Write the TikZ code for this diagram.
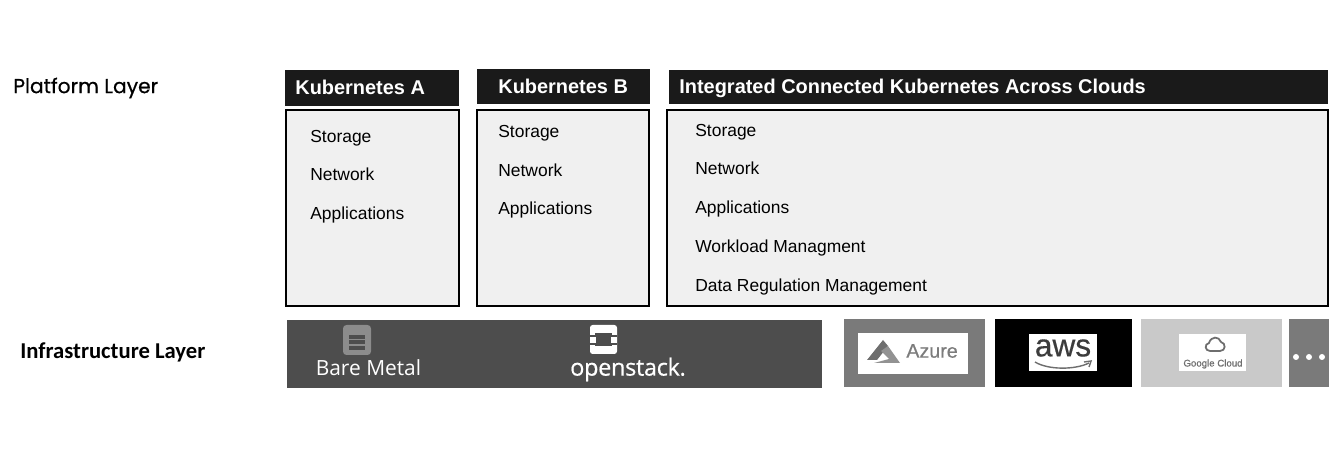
\documentclass[tikz,border=0pt]{standalone}
\usepackage{fontspec}
\setmainfont{Liberation Sans}
\newfontfamily\layerfont[FakeBold=0.5]{Poppins}
\newfontfamily\infrafont{Carlito}
\newfontfamily\openfont{Open Sans}
\newfontfamily\stackfont[FakeBold=0.6,LetterSpace=-1.5]{Open Sans}
\newfontfamily\logofont[FakeBold=0.5]{Liberation Sans}
\usetikzlibrary{arrows.meta, calc, positioning}
\definecolor{Head}{HTML}{1A1A1A}
\definecolor{Body}{HTML}{F0F0F0}
\definecolor{Metal}{HTML}{4D4D4D}
\definecolor{Azure}{HTML}{7A7A7A}
\definecolor{Cloud}{HTML}{C9C9C9}
\definecolor{Icon}{HTML}{8C8C8C}
\definecolor{Logo}{HTML}{6E6E6E}

\begin{document}
\begin{tikzpicture}[
  x=0.02cm, y=-0.02cm,
  head/.style={fill=Head, anchor=north west, inner sep=0pt, outer sep=0pt},
  title/.style={anchor=west, inner sep=0pt, text=white, text height=8.2pt, text depth=2.4pt, font=\bfseries\fontsize{11.35}{13}\selectfont},
  body/.style={draw=black, line width=1.1pt, fill=Body, anchor=north west, inner sep=0pt, outer sep=0pt},
  item/.style={anchor=west, inner sep=0pt, text height=7pt, text depth=2pt, font=\fontsize{9.92}{12}\selectfont},
  panel/.style={anchor=north west, inner sep=0pt, outer sep=0pt},
  badge/.style={fill=white, anchor=north west, inner sep=0pt, outer sep=0pt},
]
\useasboundingbox (0,0) rectangle (1336,455);

% left column
\node[anchor=west, inner sep=0pt, font=\layerfont\fontsize{11.5}{12}\selectfont] (platform) at (13,88) {Platform Layer};
\node[anchor=west, inner sep=0pt, font=\infrafont\bfseries\fontsize{12.9}{14}\selectfont] (infra) at (20,352) {Infrastructure Layer};

% headers
\node[head, minimum width=3.48cm, minimum height=0.72cm] (heada) at (285,70) {};
\node[head, minimum width=3.46cm, minimum height=0.70cm] (headb) at (477,69) {};
\node[head, minimum width=13.18cm, minimum height=0.68cm] (headc) at (669,70) {};
\node[title] (titlea) at (295,89.5) {Kubernetes A};
\node[title] (titleb) at (498,88.5) {Kubernetes B};
\node[title] (titlec) at (679,88.5) {Integrated Connected Kubernetes Across Clouds};

% bodies
\node[body, minimum width=3.46cm, minimum height=3.92cm] (bodya) at (286,110) {};
\node[body, minimum width=3.44cm, minimum height=3.92cm] (bodyb) at (477,110) {};
\node[body, minimum width=13.22cm, minimum height=3.92cm] (bodyc) at (667,110) {};

\node[item] (a1) at (310,138.5) {Storage};
\node[item] (a2) at (310,176.5) {Network};
\node[item] (a3) at (310,215.5) {Applications};
\node[item] (b1) at (498,133.5) {Storage};
\node[item] (b2) at (498,172.5) {Network};
\node[item] (b3) at (498,210.5) {Applications};
\node[item] (c1) at (695,132.5) {Storage};
\node[item] (c2) at (695,170.5) {Network};
\node[item] (c3) at (695,209.5) {Applications};
\node[item] (c4) at (695,248.5) {Workload Managment};
\node[item] (c5) at (695,287.5) {Data Regulation Management};

% infrastructure
\node[panel, fill=Metal, minimum width=10.7cm, minimum height=1.36cm] (metal) at (287,320) {};
\node[panel, fill=Azure, minimum width=2.82cm, minimum height=1.36cm] (azure) at (844,319) {};
\node[panel, fill=black, minimum width=2.74cm, minimum height=1.36cm] (aws) at (995,319) {};
\node[panel, fill=Cloud, minimum width=2.82cm, minimum height=1.36cm] (google) at (1141,319) {};
\node[panel, fill=Azure, minimum width=0.8cm, minimum height=1.36cm] (more) at (1289,319) {};

% bare metal
\draw[fill=Icon, draw=none, rounded corners=2pt] (343,325) rectangle (371,355);
\foreach \y in {335,340.5,346} \fill[Metal] (349,\y) rectangle (365,\y+4);
\node[inner sep=0pt, text=white, font=\openfont\fontsize{11.9}{14}\selectfont] (bare) at (368.5,368) {Bare Metal};

% openstack
\fill[white, rounded corners=1.5pt] (590,325) rectangle (617,354);
\fill[Metal] (595,333) rectangle (612,346);
\fill[Metal] (590,335) rectangle (595,337);
\fill[Metal] (612,335) rectangle (617,337);
\fill[Metal] (590,343) rectangle (595,345);
\fill[Metal] (612,343) rectangle (617,345);
\fill[white] (595,337) rectangle (596,343);
\fill[white] (611,337) rectangle (612,343);
\node[inner sep=0pt, text=white, font=\stackfont\fontsize{13.4}{16}\selectfont] (openstack) at (628,369.5) {openstack.};

% azure badge
\node[badge, minimum width=2.2cm, minimum height=0.82cm] (azurebadge) at (858,333) {};
\fill[Logo] (883,340) -- (867,360) -- (877,360) -- (888,346) -- cycle;
\fill[Logo!75] (888,346) -- (900,363) -- (874,363) -- (889,359) -- (881,351) -- cycle;
\node[anchor=west, inner sep=0pt, text=Logo!90, font=\logofont\fontsize{11.2}{14}\selectfont] (azuretext) at (906,351) {Azure};

% aws badge
\node[badge, minimum width=1.36cm, minimum height=0.74cm] (awsbadge) at (1029,334) {};
\node[inner sep=0pt, text=Head!85, font=\logofont\fontsize{18}{20}\selectfont] (awstext) at (1063,348) {aws};
\draw[Logo, line width=0.8pt] (1035,362) .. controls (1048,370) and (1075,370) .. (1089,363);
\draw[Logo, line width=0.8pt] (1084,362) -- (1091,361) -- (1089,367);

% google badge
\node[badge, minimum width=1.34cm, minimum height=0.74cm] (googlebadge) at (1179,334) {};
\draw[Logo, line width=1pt] (1210,351) .. controls (1205,351) and (1204,344) .. (1209,343) .. controls (1211,336) and (1219,336) .. (1221,342) .. controls (1226,343) and (1226,351) .. (1220,351) -- cycle;
\node[inner sep=0pt, text=Logo, font=\logofont\fontsize{5.5}{7}\selectfont] (googletext) at (1213,364) {Google Cloud};

% dots
\foreach \x in {1296,1309,1322} \fill[white] (\x,357) circle (3);
\end{tikzpicture}
\end{document}
